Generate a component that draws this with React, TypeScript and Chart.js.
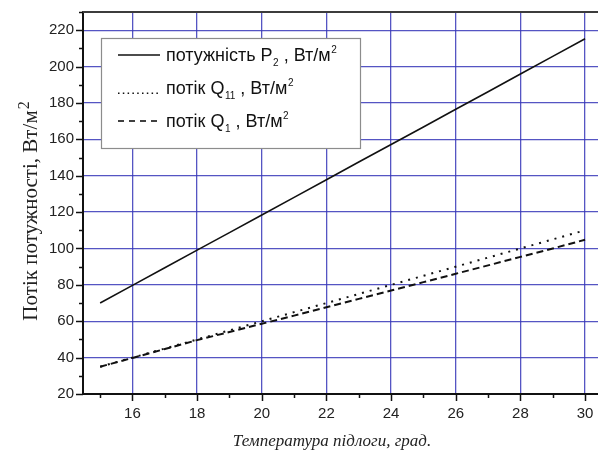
import React, { useEffect, useRef } from 'react';
import { Chart, registerables } from 'chart.js';

Chart.register(...registerables);

// ---- data ----
const temps = [15, 16, 17, 18, 19, 20, 21, 22, 23, 24, 25, 26, 27, 28, 29, 30];
const powerP2 = [70, 79.7, 89.4, 99.1, 108.7, 118.4, 128.1, 137.8, 147.5, 157.2, 166.8, 176.5, 186.2, 195.9, 205.6, 215.3];
const fluxQ11 = [35, 40, 45, 50, 55, 60, 65, 70, 75, 80, 85, 90, 95, 100, 105, 110];
const fluxQ1 = [35, 39.8, 44.7, 49.6, 54.1, 58.6, 63.1, 67.7, 72.3, 76.9, 81.5, 86.1, 90.7, 95.4, 100, 104.8];

const xTickValues = [15, 16, 17, 18, 19, 20, 21, 22, 23, 24, 25, 26, 27, 28, 29, 30];
const xMajorTicks = [16, 18, 20, 22, 24, 26, 28, 30];
const yTickValues = [20, 30, 40, 50, 60, 70, 80, 90, 100, 110, 120, 130, 140, 150, 160, 170, 180, 190, 200, 210, 220, 230];
const yMajorTicks = [20, 40, 60, 80, 100, 120, 140, 160, 180, 200, 220];

const legendNames = ['потужність P', 'потік Q', 'потік Q'];
const legendSubs = ['2', '11', '1'];
const legendUnit = ' , Вт/м';
const legendSup = '2';

const yTitleMain = 'Потік потужності, Вт/м';
const yTitleSup = '2';
const xTitle = 'Температура підлоги, град.';

const SANS = "'Liberation Sans', Arial, sans-serif";
const SERIF = "'Liberation Serif', 'Times New Roman', serif";
const GRID_BLUE = 'rgba(55,55,185,0.85)';

const decorPlugin = {
  id: 'decor',
  afterDatasetsDraw(chart: any) {
    const { ctx, chartArea: ca, scales } = chart;
    const x = scales.x;
    const y = scales.y;
    ctx.save();

    // top frame line
    ctx.strokeStyle = '#3c3c3c';
    ctx.lineWidth = 2;
    ctx.beginPath();
    ctx.moveTo(ca.left - 1, ca.top);
    ctx.lineTo(ca.right, ca.top);
    ctx.stroke();

    // tick marks (outward)
    ctx.strokeStyle = '#111';
    ctx.lineWidth = 1.5;
    xTickValues.forEach((v) => {
      const px = Math.round(x.getPixelForValue(v)) + 0.5;
      const len = xMajorTicks.includes(v) ? 7 : 4;
      ctx.beginPath();
      ctx.moveTo(px, ca.bottom);
      ctx.lineTo(px, ca.bottom + len);
      ctx.stroke();
    });
    yTickValues.forEach((v) => {
      const py = Math.round(y.getPixelForValue(v)) + 0.5;
      const len = yMajorTicks.includes(v) ? 7 : 4;
      ctx.beginPath();
      ctx.moveTo(ca.left - len, py);
      ctx.lineTo(ca.left, py);
      ctx.stroke();
    });

    // legend box
    const bx = ca.left + 18;
    const by = ca.top + 26;
    const bw = 259;
    const bh = 110;
    ctx.fillStyle = '#ffffff';
    ctx.fillRect(bx, by, bw, bh);
    ctx.strokeStyle = '#8c8c8c';
    ctx.lineWidth = 1.2;
    ctx.strokeRect(bx + 0.5, by + 0.5, bw, bh);

    const sx0 = bx + 17;
    const sx1 = bx + 59;
    const tx = bx + 65;
    for (let i = 0; i < 3; i++) {
      const cy = by + 17 + i * 33;
      const base = cy + 6;
      ctx.strokeStyle = '#111';
      ctx.fillStyle = '#111';
      if (i === 0) {
        ctx.lineWidth = 1.6;
        ctx.setLineDash([]);
        ctx.beginPath();
        ctx.moveTo(sx0, cy);
        ctx.lineTo(sx1, cy);
        ctx.stroke();
      } else if (i === 1) {
        for (let d = sx0; d <= sx1 - 1; d += 4.8) {
          ctx.fillRect(d, base - 1.5, 1.5, 1.5);
        }
      } else {
        ctx.lineWidth = 1.6;
        for (let k = 0; k < 4; k++) {
          const d = sx0 + k * 11;
          ctx.beginPath();
          ctx.moveTo(d, cy);
          ctx.lineTo(d + 6, cy);
          ctx.stroke();
        }
      }
      // text with subscript / superscript
      ctx.fillStyle = '#111';
      ctx.textBaseline = 'alphabetic';
      ctx.textAlign = 'left';
      let cx = tx;
      ctx.font = `18px ${SANS}`;
      ctx.fillText(legendNames[i], cx, base);
      cx += ctx.measureText(legendNames[i]).width;
      ctx.font = `10px ${SANS}`;
      ctx.fillText(legendSubs[i], cx + 0.5, base + 5);
      cx += ctx.measureText(legendSubs[i]).width + 0.5;
      ctx.font = `18px ${SANS}`;
      ctx.fillText(legendUnit, cx, base);
      cx += ctx.measureText(legendUnit).width;
      ctx.font = `10px ${SANS}`;
      ctx.fillText(legendSup, cx + 0.5, base - 8);
    }

    // y axis title (rotated)
    ctx.save();
    ctx.translate(37, 211);
    ctx.rotate(-Math.PI / 2);
    ctx.fillStyle = '#222';
    ctx.font = `21px ${SERIF}`;
    const wMain = ctx.measureText(yTitleMain).width;
    ctx.font = `16px ${SERIF}`;
    const wSup = ctx.measureText(yTitleSup).width;
    const start = -(wMain + wSup + 1) / 2;
    ctx.font = `21px ${SERIF}`;
    ctx.textAlign = 'left';
    ctx.fillText(yTitleMain, start, 0);
    ctx.font = `16px ${SERIF}`;
    ctx.fillText(yTitleSup, start + wMain + 1, -8);
    ctx.restore();

    // x axis title
    ctx.fillStyle = '#222';
    ctx.font = `italic 17px ${SERIF}`;
    ctx.textAlign = 'center';
    ctx.fillText(xTitle, 332, 446);

    ctx.restore();
  },
};

export default function App() {
  const ref = useRef<HTMLCanvasElement | null>(null);

  useEffect(() => {
    if (!ref.current) return;
    const chart = new Chart(ref.current, {
      type: 'line',
      data: {
        datasets: [
          {
            label: 'P2',
            data: temps.map((t, i) => ({ x: t, y: powerP2[i] })),
            borderColor: '#111',
            borderWidth: 1.6,
            pointRadius: 0,
            tension: 0,
          },
          {
            label: 'Q11',
            data: temps.map((t, i) => ({ x: t, y: fluxQ11[i] })),
            borderColor: '#111',
            borderWidth: 2,
            borderDash: [2, 6],
            pointRadius: 0,
            tension: 0,
          },
          {
            label: 'Q1',
            data: temps.map((t, i) => ({ x: t, y: fluxQ1[i] })),
            borderColor: '#111',
            borderWidth: 2,
            borderDash: [7, 4],
            pointRadius: 0,
            tension: 0,
          },
        ],
      },
      options: {
        animation: false,
        responsive: true,
        maintainAspectRatio: false,
        layout: { padding: { top: 12, right: 0, left: 0, bottom: 0 } },
        plugins: {
          legend: { display: false },
          tooltip: { enabled: false },
        },
        scales: {
          x: {
            type: 'linear',
            min: 14.47,
            max: 30.4,
            afterBuildTicks: (s: any) => {
              s.ticks = xTickValues.map((v) => ({ value: v }));
            },
            afterFit: (s: any) => {
              s.height = 58;
            },
            grid: {
              color: (c: any) => (c.tick && xMajorTicks.includes(c.tick.value) ? GRID_BLUE : 'rgba(0,0,0,0)'),
              lineWidth: 1.3,
              drawTicks: true,
              tickLength: 7,
              tickColor: 'rgba(0,0,0,0)',
            },
            border: { display: true, color: '#111', width: 2 },
            ticks: {
              autoSkip: false,
              maxRotation: 0,
              padding: 4,
              color: '#222',
              font: { family: SANS, size: 15 },
              callback: (v: any) => (xMajorTicks.includes(Number(v)) ? String(v) : ''),
            },
          },
          y: {
            type: 'linear',
            min: 20,
            max: 230,
            afterBuildTicks: (s: any) => {
              s.ticks = yTickValues.map((v) => ({ value: v }));
            },
            afterFit: (s: any) => {
              s.width = 83;
            },
            grid: {
              color: (c: any) => (c.tick && yMajorTicks.includes(c.tick.value) ? GRID_BLUE : 'rgba(0,0,0,0)'),
              lineWidth: 1.3,
              drawTicks: true,
              tickLength: 7,
              tickColor: 'rgba(0,0,0,0)',
            },
            border: { display: true, color: '#111', width: 2 },
            ticks: {
              autoSkip: false,
              padding: 2,
              color: '#222',
              font: { family: SANS, size: 15 },
              callback: (v: any) => (yMajorTicks.includes(Number(v)) ? String(v) : ''),
            },
          },
        },
      },
      plugins: [decorPlugin],
    });
    return () => chart.destroy();
  }, []);

  return (
    <div style={{ position: 'absolute', left: 0, top: 0, width: 598, height: 452, background: '#fff' }}>
      <canvas ref={ref} />
    </div>
  );
}
